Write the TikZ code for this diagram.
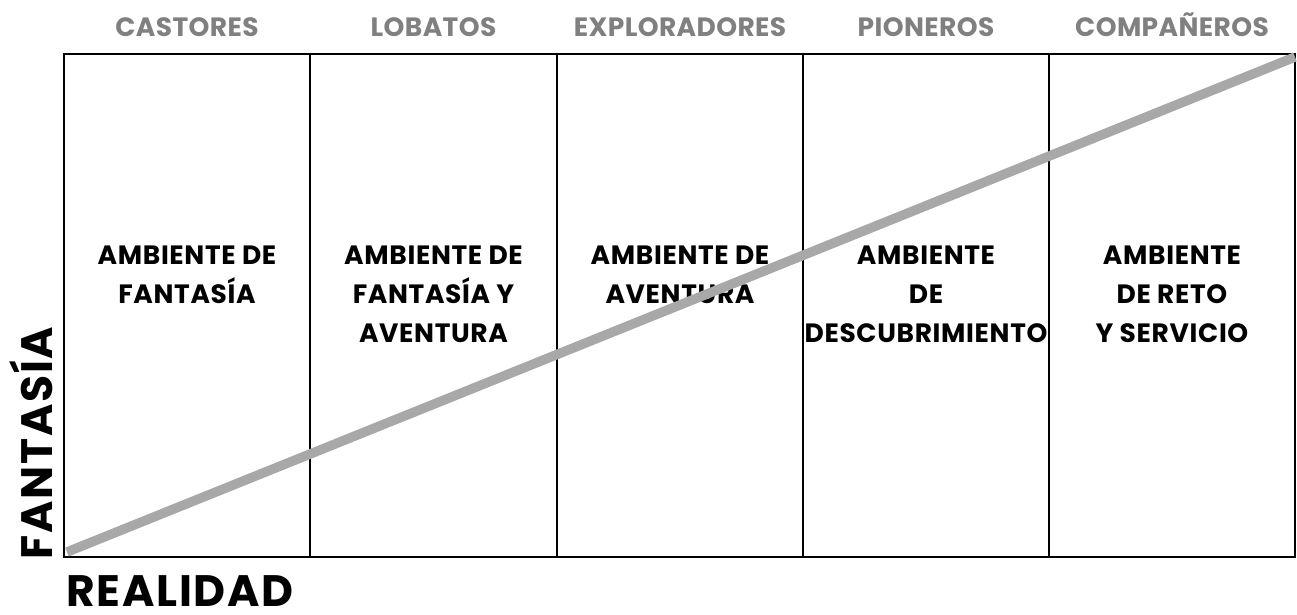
\documentclass[tikz,border=0pt]{standalone}
\usepackage{fontspec}
\setmainfont{Poppins}
\usepackage{tikz}
\definecolor{headgray}{HTML}{808080}
\definecolor{linegray}{HTML}{A8A8A8}

\begin{document}
\begin{tikzpicture}[x=1pt,y=-1pt]
\tikzstyle{header}=[anchor=base,text=headgray,font=\fontsize{26.5}{30}\selectfont\bfseries\addfontfeatures{LetterSpace=1.5},inner sep=0pt]
\tikzstyle{ambtext}=[anchor=north,align=center,font=\fontsize{26.5}{39}\selectfont\bfseries\addfontfeatures{LetterSpace=2.5},inner sep=0pt]
\tikzstyle{axislabel}=[inner sep=0pt,font=\fontsize{44}{50}\selectfont\bfseries\addfontfeatures{LetterSpace=4}]
\useasboundingbox (0,0) rectangle (1297,614);
% grid
\draw[line width=2.5pt] (64,54) rectangle (1295,557);
\draw[line width=2.5pt] (310,54) -- (310,557);
\draw[line width=2.5pt] (557,54) -- (557,557);
\draw[line width=2.5pt] (803,54) -- (803,557);
\draw[line width=2.5pt] (1049,54) -- (1049,557);
% sections
\node[header] (castores) at (187,36) {CASTORES};
\node[header] (lobatos) at (433.5,36) {LOBATOS};
\node[header] (exploradores) at (680,36) {EXPLORADORES};
\node[header] (pioneros) at (926,36) {PIONEROS};
\node[header] (companeros) at (1172,36) {COMPAÑEROS};
% ambientes
\node[ambtext] (fantasia) at (187,246) {AMBIENTE DE\\FANTASÍA};
\node[ambtext] (fantaventura) at (433.5,246) {AMBIENTE DE\\FANTASÍA Y\\AVENTURA};
\node[ambtext] (aventura) at (680,246) {AMBIENTE DE\\AVENTURA};
\node[ambtext] (descubrimiento) at (926,246) {AMBIENTE\\DE\\DESCUBRIMIENTO};
\node[ambtext] (reto) at (1172,246) {AMBIENTE\\DE RETO\\Y SERVICIO};
% ejes
\node[axislabel,rotate=90] (ejefantasia) at (31,443) {FANTASÍA};
\node[axislabel,anchor=base west,text depth=0pt] (ejerealidad) at (66,606) {REALIDAD};
% progresion
\coordinate (inicio) at (67,552);
\coordinate (fin) at (1295,57);
\draw[linegray,line width=9.5pt] (inicio) -- (fin);
\end{tikzpicture}
\end{document}
